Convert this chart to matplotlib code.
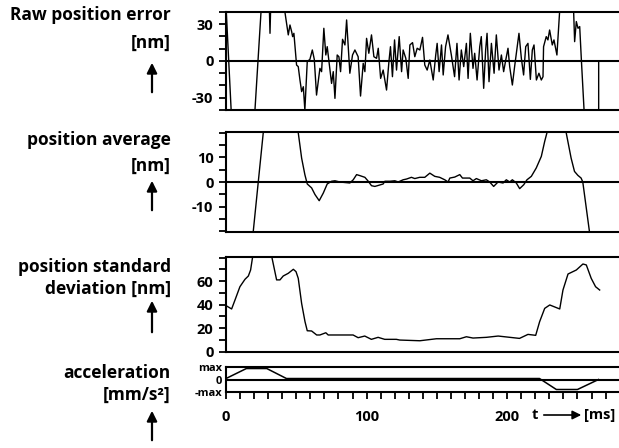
#!/usr/bin/env python3
"""Position error / average / std-dev / acceleration traces, stacked panels."""
import matplotlib
matplotlib.use("Agg")
import matplotlib.pyplot as plt
from matplotlib.ticker import MultipleLocator

FONT = "Open Sans"

# raw position error [nm] vs t [ms]
raw_t = [0, 4, 12, 20.6, 24.9, 28, 30.8, 31.3, 31.8, 38, 41.9, 44.3, 45.5, 46.7,
         47.4, 48.3, 50.2, 51.4, 52.6, 53.8, 55, 56.1, 57.8, 59.7, 61.4, 62.8,
         64.4, 66.8, 68, 69.6, 71, 72, 73.4, 75.1, 76.3, 77.5, 79.1, 80.3, 81.5,
         82.9, 84.6, 85.8, 88.1, 90, 91.7, 94, 95.7, 97.6, 98.8, 100, 101.6,
         103.5, 105.2, 107.1, 108.3, 110, 111.8, 114.2, 115.9, 117, 118.4, 119.9,
         121.3, 123.2, 124.9, 126, 127.9, 129.6, 130.8, 132.7, 134.3, 136, 137.9,
         139.8, 141.4, 143.1, 145, 147.4, 149.2, 150.2, 151.6, 153.3, 154.5,
         156.2, 157.9, 160.3, 162.6, 164.3, 165.8, 167.4, 169.1, 171, 172.2,
         173.8, 175.7, 176.9, 178.6, 180.5, 181.6, 183.3, 184.7, 185.7, 187.1,
         188.8, 190.7, 192.3, 194.2, 195.9, 197.5, 199, 200.6, 201.8, 203.7,
         205.3, 207, 208.4, 210.1, 211.7, 213.2, 214.8, 216.5, 217.9, 219.1,
         220.8, 222.6, 224.3, 225.5, 225.9, 227.8, 229, 230.2, 232.1, 233.3,
         235.4, 237.3, 242, 247.3, 248, 249.2, 250.4, 251.6, 252.8, 254.7, 260,
         265.1, 265.1, 280]
raw_err = [45, -48, -60, -40, 40, 55, 45, 22.6, 45, 55, 40, 21.3, 29.4, 24,
           19.9, 22.6, -3.3, -4.6, -15.5, -25, -21, -40, -0.5, 1.4, 9, 1.4,
           -27.8, -6, -8.7, 26.7, 4.9, 11.7, -1.9, -18.3, -8.7, -30.5, 4.9, 3.5, -8.7,
           17.7, 13.1, 33.5, -10, 4.9, 9, 3.5, -28.6, -1.9, -8.7, 18.5, 6.3,
           21.3, 3.5, 2.2, 10.4, -14.2, -7.4, -23.7, -0.5, 11.7, -12.8, 17.2,
           -7.4, 19.9, -8.7, 9, 2.2, -14.2, 13.1, 15, 3.5, 10.4, 9,
           19.3, -3.3, -7.4, 0.8, -15.5, 4.9, 14.4, -8.7, 13.1, -11.4,
           11.7, 21.3, 4.9, -12.8, 14.4, -15.5, 9, -4.6, 14.4, -14.2,
           22.6, -6, 6.3, -15.5, 11.7, 19.9, -22.3, 9, 22.6, -16.9,
           14.4, -10, 21.3, -7.4, 4.9, -8.7, 0.8, 10.4, -4.6, -19.6,
           -4.6, 10.4, 22.6, 2.2, -11.4, 11.7, 14.4, -15, 9, 13.1,
           -15.5, -10, -15.5, -12.8, 11.7, 19.9, 17.2, 25.3, 13.1, 17.2,
           4.9, 40, 60, 40, 15.8, 32.2, 26.7, 28.1, 0.8, -40, -60,
           -40, 0, 0]

# running average [nm]
avg_t = [10, 19.4, 26.5, 33, 40, 47, 51.4, 53.8, 56.1, 57.8, 60.9, 63.3, 66.3,
         69.2, 72, 75.1, 77.5, 81, 88.1, 90.5, 92.9, 95.2, 98.8, 101.2, 103.5,
         105.9, 108.3, 111.8, 113, 116.6, 120.1, 122.5, 126, 128.4, 131.9, 134.3,
         137.8, 141.4, 145, 148.5, 152, 155.6, 158, 159.2, 162.7, 166.3, 168.2,
         173.4, 175.7, 178.1, 181.7, 185.2, 187.6, 190.4, 193.5, 197.1, 199.4,
         201.8, 203.7, 206.5, 208.9, 211.8, 214.1, 217.2, 220.7, 224.3, 226.7,
         228.3, 235, 242, 245.5, 247.9, 250.3, 252.6, 253.8, 258.5, 262]
avg_val = [-45, -20, 20, 45, 55, 42, 20, 9.7, 3, -0.8, -2.4, -5.1, -7.6,
           -4.5, -0.8, 0.3, 0.5, 0, -0.4, 0.9, 3, 2.6, 1.9, 0.3, -1.5,
           -1.8, -1.4, -0.8, 0.3, 0.3, 0.5, 0, 0.9, 1.2, 1.9, 1.4,
           1.9, 1.9, 3.6, 2.3, 1.9, 0.9, 0, 1.6, 2, 3, 1.6,
           1.6, 0.5, 1.4, 0.5, 0.9, 0, -1.8, 0, -0.4, 0.9,
           0, 0.9, -0.4, -2.7, -1.1, 0.9, 2.3, 5.7, 10.4, 16.5,
           20, 45, 20, 9.7, 4.3, 2.7, 1.6, 0, -20, -35]

# standard deviation [nm]
std_t = [0.5, 4, 6.4, 9.9, 13.5, 15.9, 17.5, 19, 25, 32.5, 36, 38.4, 40.7, 44.3,
         47.9, 49.8, 51.4, 53.8, 56.2, 57.8, 60.9, 64.5, 66.8, 71, 72.7, 90.4,
         94, 98.7, 103.4, 108.2, 112.9, 121.2, 123.6, 137.9, 149.7, 166.3, 171,
         175.7, 185.2, 193.6, 208.8, 214.8, 220.3, 223.1, 226.7, 230.3, 237.4,
         239.7, 243.3, 249.2, 253.9, 256.3, 259.8, 262.9, 265.8]
std_val = [38.8, 36.3, 43.9, 55.2, 61.5, 64.3, 69.4, 81, 95, 81, 61, 61, 64.3, 66.6,
           70, 68, 62.3, 41, 25.5, 17.8, 17.6, 14.2, 14.2, 16.1, 14.2, 14.2,
           11.9, 13.3, 10.5, 12.2, 10.5, 10.5, 9.9, 9.3, 11, 11, 12.7,
           11.6, 12.2, 13.3, 11.3, 14.7, 13.9, 25.5, 36.8, 39.7, 36.3,
           52.4, 66, 69.4, 74.5, 73.7, 62.3, 55.2, 52.4]

# acceleration profile (fraction of max)
acc_t = [0, 14.5, 29, 43, 223, 235, 250, 265]
acc_val = [0.08, 0.9, 0.9, 0.08, 0.08, -0.82, -0.82, 0]

# left-hand panel labels, one entry per text line
LABEL_LINES = ["Raw position error", "[nm]", "position average", "[nm]",
               "position standard", "deviation [nm]", "acceleration", "[mm/s²]"]

W, H = 619, 448
plt.rcParams["font.family"] = [FONT, "DejaVu Sans"]
plt.rcParams["axes.unicode_minus"] = False
fig = plt.figure(figsize=(W / 100, H / 100), dpi=100)


def panel(top, bottom):
    return fig.add_axes([226 / W, 1 - bottom / H, 1 - 226 / W + 0.001, (bottom - top) / H])


ax1 = panel(12, 110)
ax2 = panel(132.3, 231.7)
ax3 = panel(256.7, 351.7)
ax4 = panel(367.3, 391.7)
axes = [ax1, ax2, ax3, ax4]

ax1.plot(raw_t, raw_err, color="black", lw=1.0)
ax1.set_ylim(-40, 40)
ax1.set_yticks([-30, 0, 30])
ax1.yaxis.set_minor_locator(MultipleLocator(10))

ax2.plot(avg_t, avg_val, color="black", lw=1.0)
ax2.set_ylim(-20.2, 20.2)
ax2.set_yticks([-10, 0, 10])
ax2.yaxis.set_minor_locator(MultipleLocator(5))

ax3.plot(std_t, std_val, color="black", lw=1.0)
ax3.set_ylim(0, 80.7)
ax3.set_yticks([0, 20, 40, 60])
ax3.yaxis.set_minor_locator(MultipleLocator(10))

ax4.plot(acc_t, acc_val, color="black", lw=1.1)
ax4.set_ylim(-1, 1)
ax4.set_yticks([1, 0, -1])
ax4.set_yticklabels(["max", "0", "-max"], fontsize=8, fontweight="bold")
ax4.tick_params(axis="y", length=0, pad=3)

for ax in (ax1, ax2, ax4):
    ax.axhline(0, color="black", lw=1.5, zorder=1)

for ax in axes:
    ax.set_xlim(0, 280)
    for sp in ax.spines.values():
        sp.set_linewidth(1.5)
    ax.spines["right"].set_visible(False)
for ax in (ax1, ax2, ax3):
    ax.set_xticks([])
    ax.tick_params(axis="y", which="both", length=5, width=1.3, labelsize=10.5, pad=4)
    for lab in ax.get_yticklabels():
        lab.set_fontweight("bold")

ax4.set_xticks([0, 100, 200])
ax4.xaxis.set_minor_locator(MultipleLocator(10))
ax4.tick_params(axis="x", which="both", length=5, width=1.3, labelsize=10.5, pad=8)
for lab in ax4.get_xticklabels():
    lab.set_fontweight("bold")

# unit on the time axis
T_Y = 415
fig.text(535 / W, 1 - T_Y / H, "t", ha="center", va="center", fontsize=10.5, fontweight="bold")
ax4.annotate("", xy=(584, H - T_Y), xytext=(541, H - T_Y), xycoords="figure pixels",
             textcoords="figure pixels", annotation_clip=False,
             arrowprops=dict(arrowstyle="-|>", color="black", lw=1.2, mutation_scale=13))
fig.text(584 / W, 1 - T_Y / H, "[ms]", ha="left", va="center", fontsize=10.5, fontweight="bold")

# panel labels (line centres in pixels) with upward arrows on the left
line_y = [15, 43, 140, 166, 267, 289, 373, 395]
for txt, y in zip(LABEL_LINES, line_y):
    fig.text(171 / W, 1 - y / H, txt, ha="right", va="center", fontsize=12.5,
             fontweight="bold")
arrow_span = [(95, 60), (213, 178), (335, 298), (443, 408)]
for y0, y1 in arrow_span:
    ax1.annotate("", xy=(152, H - y1), xytext=(152, H - y0), xycoords="figure pixels",
                 textcoords="figure pixels", annotation_clip=False,
                 arrowprops=dict(arrowstyle="-|>", color="black", lw=1.6, mutation_scale=15))

fig.savefig("out.png", dpi=100)
